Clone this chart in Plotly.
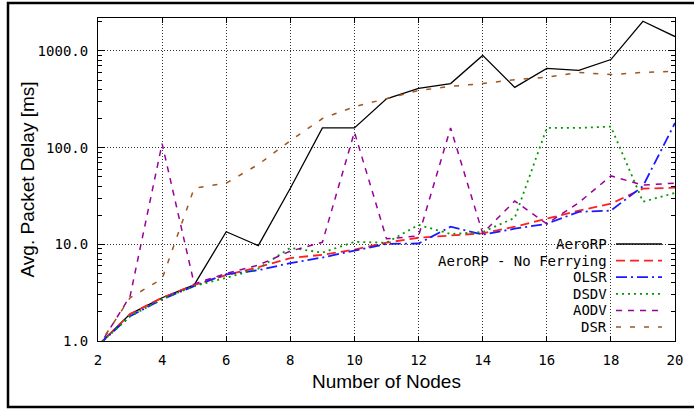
import plotly.graph_objects as go

nodes = list(range(2, 21))
aerorp = [0.9, 1.9, 2.8, 3.8, 13.5, 9.7, 38, 160, 160, 320, 410, 460, 900, 420, 660, 630, 815, 2030, 1410]
no_ferry = [0.9, 1.9, 2.8, 3.8, 4.8, 5.8, 7.2, 7.8, 8.8, 10.4, 11.7, 12.3, 13.0, 15.2, 18.4, 22.3, 26.3, 37.7, 38.5]
olsr = [0.9, 1.8, 2.7, 3.7, 4.9, 5.4, 6.4, 7.3, 8.6, 10.1, 10.2, 15.2, 12.6, 14.5, 16.3, 21.7, 22.3, 40, 180]
dsdv = [0.9, 1.8, 2.7, 3.7, 4.5, 5.6, 9.2, 8.2, 10.6, 10.4, 15.9, 12.8, 13.4, 18.8, 160, 160, 165, 27.6, 34]
aodv = [0.85, 2.9, 110, 3.9, 5.0, 6.1, 8.5, 10.5, 145, 11.4, 12.2, 160, 13.0, 28, 16.3, 27, 51, 41, 43]
dsr = [0.88, 2.8, 4.4, 38, 43, 67, 118, 200, 265, 320, 390, 430, 460, 505, 535, 600, 570, 600, 615]

series_names = ["AeroRP", "AeroRP - No Ferrying", "OLSR", "DSDV", "AODV", "DSR"]
series_vals = [aerorp, no_ferry, olsr, dsdv, aodv, dsr]
colors = ["#000000", "#ff2020", "#1a1aff", "#009a00", "#990099", "#a0561e"]
dashes = ["solid", "9px,5px", "11px,4px,2px,4px", "2px,4px", "6px,6px", "5px,9px"]
widths = [1.3, 1.8, 1.8, 1.8, 1.5, 1.5]

y_tickvals = [1, 10, 100, 1000]
y_ticktext = ["1.0", "10.0", "100.0", "1000.0"]
y_minor = [m * 10 ** e for e in range(0, 4) for m in range(2, 10)]
x_tickvals = list(range(2, 21, 2))

W, H = 694, 409
L, R, T, B = 98, 675, 18, 341


def xp(px):
    return (px - L) / (R - L)


def yp(py):
    return (B - py) / (B - T)


fig = go.Figure()
for name, vals, c, d, w in zip(series_names, series_vals, colors, dashes, widths):
    fig.add_trace(go.Scatter(x=nodes, y=vals, mode="lines", name=name,
                             line=dict(color=c, dash=d, width=w), showlegend=False))

shapes = []
annotations = []
# opaque key box
shapes.append(dict(type="rect", xref="paper", yref="paper", x0=xp(473), x1=xp(675),
                   y0=yp(341), y1=yp(235), fillcolor="white", line=dict(width=0),
                   layer="between"))
row_y0 = 244
row_step = 16.6
for i, (name, c, d, w) in enumerate(zip(series_names, colors, dashes, widths)):
    yy = row_y0 + i * row_step
    annotations.append(dict(text=name, xref="paper", yref="paper", x=xp(609), y=yp(yy),
                            xanchor="right", yanchor="middle", showarrow=False,
                            font=dict(family="DejaVu Sans Mono", size=14, color="black")))
    shapes.append(dict(type="line", xref="paper", yref="paper", x0=xp(616), x1=xp(662),
                       y0=yp(yy), y1=yp(yy), line=dict(color=c, dash=d, width=w)))

# outer frame
shapes.append(dict(type="rect", xref="paper", yref="paper", x0=xp(8), x1=xp(702),
                   y0=yp(407), y1=yp(3), line=dict(color="black", width=2.5),
                   fillcolor="rgba(0,0,0,0)"))

annotations.append(dict(text="Avg. Packet Delay [ms]", xref="paper", yref="paper",
                        x=xp(27), y=0.5, textangle=-90, showarrow=False,
                        xanchor="center", yanchor="middle",
                        font=dict(family="Liberation Sans", size=19, color="black")))
annotations.append(dict(text="Number of Nodes", xref="paper", yref="paper",
                        x=0.5, y=yp(381), showarrow=False,
                        xanchor="center", yanchor="middle",
                        font=dict(family="Liberation Sans", size=19, color="black")))

grid_dash = "1px,2px"
fig.update_layout(
    width=W, height=H,
    margin=dict(l=L, r=W - R, t=T, b=H - B),
    paper_bgcolor="white", plot_bgcolor="white",
    shapes=shapes, annotations=annotations,
    showlegend=False,
    xaxis=dict(range=[2, 20], tickvals=x_tickvals, ticks="inside", ticklen=5,
               tickcolor="black", showline=True, linecolor="black", linewidth=1,
               mirror="ticks", showgrid=True, gridcolor="#333333", griddash=grid_dash,
               gridwidth=1, zeroline=False, ticklabelstandoff=6,
               tickfont=dict(family="DejaVu Sans Mono", size=14, color="black")),
    yaxis=dict(type="log", range=[0, 3.341], tickvals=y_tickvals, ticktext=y_ticktext,
               ticks="inside", ticklen=7, tickcolor="black", showline=True,
               linecolor="black", linewidth=1, mirror="ticks", showgrid=True,
               gridcolor="#333333", griddash=grid_dash, gridwidth=1, zeroline=False,
               ticklabelstandoff=6,
               minor=dict(tickvals=y_minor, ticks="inside", ticklen=4,
                          tickcolor="black", showgrid=False),
               tickfont=dict(family="DejaVu Sans Mono", size=14, color="black")),
)

fig.write_html("out.html")
